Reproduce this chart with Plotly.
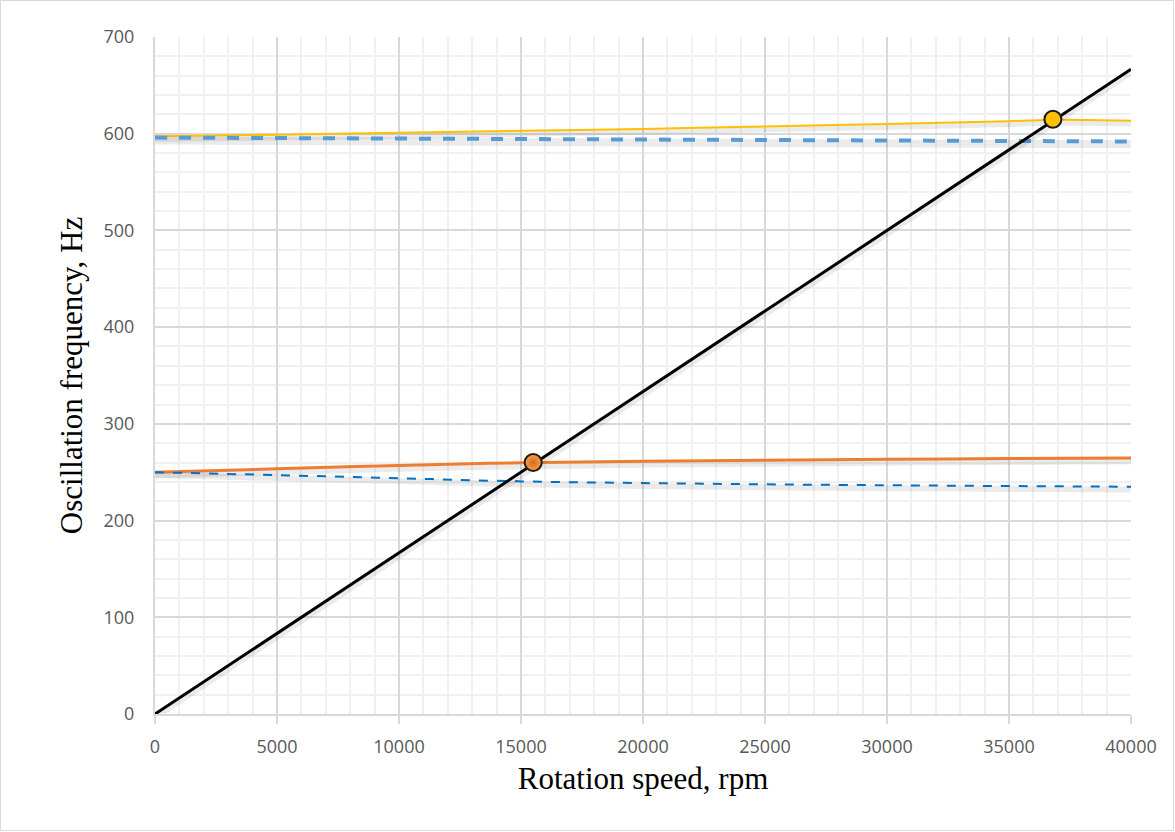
import plotly.graph_objects as go

# ---- data ----
rpm = [0, 5000, 10000, 15000, 20000, 25000, 30000, 35000, 40000]
mode1_fw = [250, 253.5, 257, 259.8, 261.3, 262.4, 263.3, 264.1, 264.8]      # orange
mode1_bw = [250, 247, 243.8, 240.5, 238.8, 237.5, 236.5, 235.7, 235]        # thin blue dashed
rpm_y = [0, 5000, 10000, 15000, 20000, 25000, 30000, 35000, 37000, 40000]
mode2_fw = [597.5, 599, 601, 603, 605, 607.5, 610, 613, 614.5, 613.5]        # yellow
mode2_bw = [596, 595.5, 595, 594.5, 594, 593.5, 593, 592.5, 592]            # light blue dashed
excit_x = [0, 40000]
excit_y = [0, 666.7]                                                        # 1x rotation line
crit_x = [15500, 36800]
crit_y = [260, 615]

x_ticks = [0, 5000, 10000, 15000, 20000, 25000, 30000, 35000, 40000]
y_ticks = [0, 100, 200, 300, 400, 500, 600, 700]

fig = go.Figure()

shadow = "rgba(0,0,0,0.08)"
def add_line(x, y, color, width, dash="solid"):
    fig.add_trace(go.Scatter(x=x, y=[v - 3 for v in y], mode="lines",
                             line=dict(color=shadow, width=width + 4, shape="spline"),
                             hoverinfo="skip", showlegend=False))
    fig.add_trace(go.Scatter(x=x, y=y, mode="lines",
                             line=dict(color=color, width=width, dash=dash, shape="spline"),
                             showlegend=False))

add_line(rpm_y, mode2_fw, "#FFC000", 2)
add_line(rpm, mode2_bw, "#5B9BD5", 4, dash="dash")
add_line(rpm, mode1_fw, "#ED7D31", 3)
add_line(rpm, mode1_bw, "#0070C0", 2, dash="dash")
add_line(excit_x, excit_y, "#000000", 3)

fig.add_trace(go.Scatter(x=crit_x[:1], y=crit_y[:1], mode="markers",
                         marker=dict(size=17, color="#F6A04D",
                                     gradient=dict(type="radial", color="#D86A1C"),
                                     line=dict(color="#2a1a0a", width=2)),
                         showlegend=False))
fig.add_trace(go.Scatter(x=crit_x[1:], y=crit_y[1:], mode="markers",
                         marker=dict(size=17, color="#FFC000",
                                     line=dict(color="#1a1a1a", width=2)),
                         showlegend=False))

L, R, T, B = 155, 44, 37, 118
W, H = 1175, 832
pw, ph = W - L - R, H - T - B

fig.update_layout(
    width=W, height=H,
    margin=dict(l=L, r=R, t=T, b=B),
    paper_bgcolor="white", plot_bgcolor="white",
    showlegend=False,
    xaxis=dict(
        range=[0, 40000], tickvals=x_ticks, ticktext=[str(v) for v in x_ticks],
        showgrid=True, gridcolor="#d9d9d9", gridwidth=2,
        minor=dict(dtick=1000, showgrid=True, gridcolor="#f0f0f0", gridwidth=2),
        showline=True, linecolor="#d9d9d9", linewidth=2,
        ticks="outside", ticklen=8, tickcolor="#d9d9d9", tickwidth=2,
        tickfont=dict(family="Open Sans", size=18, color="#595959"),
        ticklabelstandoff=7,
        zeroline=False,
        title=dict(text="Rotation speed, rpm", font=dict(family="Liberation Serif", size=31, color="black"),
                   standoff=11),
    ),
    yaxis=dict(
        range=[0, 700], tickvals=y_ticks,
        showgrid=True, gridcolor="#d9d9d9", gridwidth=2,
        minor=dict(dtick=20, showgrid=True, gridcolor="#f0f0f0", gridwidth=2),
        showline=True, linecolor="#d9d9d9", linewidth=2,
        ticks="", tickfont=dict(family="Open Sans", size=18, color="#595959"),
        ticklabelstandoff=15,
        zeroline=False,
        title=dict(text="Oscillation frequency, Hz", font=dict(family="Liberation Serif", size=31, color="black"),
                   standoff=12),
    ),
    shapes=[dict(type="rect", xref="paper", yref="paper",
                 x0=-L / pw + 0.5 / pw, x1=1 + R / pw - 1.5 / pw,
                 y0=-B / ph + 1.5 / ph, y1=1 + T / ph - 0.5 / ph,
                 line=dict(color="#d9d9d9", width=1), layer="below")],
)

fig.write_html("out.html", config={"displayModeBar": False},
               post_script="document.body.style.margin='0';")
